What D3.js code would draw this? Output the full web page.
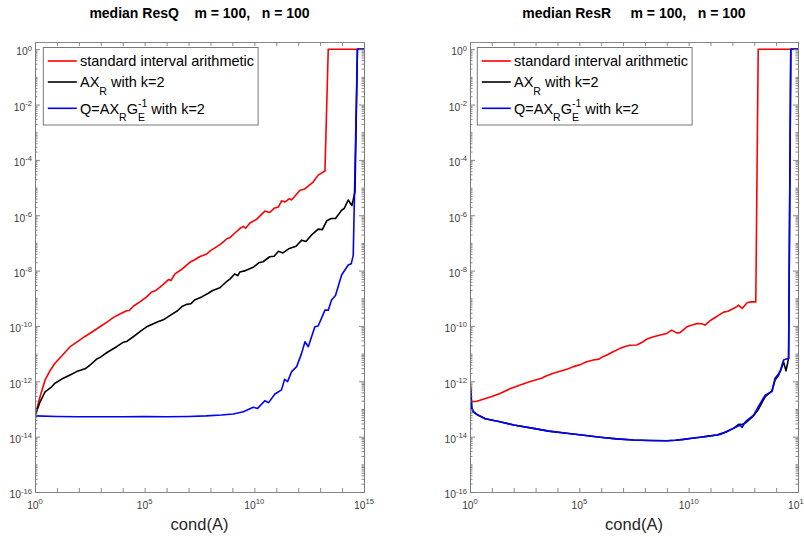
<!DOCTYPE html>
<html>
<head>
<meta charset="utf-8">
<script src="https://cdn.jsdelivr.net/npm/d3@7"></script>
<style>
  body { margin: 0; background: #fff; }
  text { font-family: Arial, "Liberation Sans", Helvetica, sans-serif; white-space: pre; }
</style>
</head>
<body>
<svg id="chart" width="804" height="537"></svg>
<script>
// values as [log10 cond(A), log10 residual]

// median ResQ
var resQStd = [[0,-13.25],[0.23,-12.56],[0.46,-11.95],[0.7,-11.6],[0.91,-11.35],[1.29,-11.02],[1.6,-10.75],
  [1.97,-10.55],[2.28,-10.38],[2.6,-10.22],[2.96,-10.03],[3.3,-9.85],[3.6,-9.68],[3.87,-9.57],[4.18,-9.45],
  [4.3,-9.44],[4.5,-9.28],[4.8,-9.12],[5.09,-8.95],[5.3,-8.78],[5.5,-8.72],[5.7,-8.6],[5.85,-8.5],[6.1,-8.32],
  [6.2,-8.36],[6.38,-8.12],[6.7,-7.95],[7.06,-7.7],[7.3,-7.6],[7.5,-7.5],[7.83,-7.4],[8.0,-7.28],[8.2,-7.18],
  [8.43,-7.06],[8.6,-6.95],[8.74,-6.85],[8.9,-6.8],[9.1,-6.65],[9.34,-6.48],[9.5,-6.4],[9.6,-6.47],[9.8,-6.28],
  [10.1,-6.15],[10.48,-5.85],[10.7,-5.9],[10.9,-5.75],[11.1,-5.7],[11.24,-5.48],[11.4,-5.52],[11.6,-5.4],
  [11.7,-5.45],[12.08,-5.1],[12.3,-5.05],[12.5,-4.92],[12.68,-4.8],[12.91,-4.55],[13.22,-4.4],[13.37,0],[15,0]];
var resQAXR = [[0,-13.25],[0.23,-12.74],[0.46,-12.38],[0.76,-12.2],[0.91,-12.07],[1.22,-11.92],[1.6,-11.77],
  [1.9,-11.65],[2.28,-11.55],[2.5,-11.42],[2.81,-11.2],[3.0,-11.12],[3.3,-10.95],[3.72,-10.75],[4.0,-10.6],
  [4.2,-10.55],[4.48,-10.39],[4.8,-10.2],[5.09,-10.03],[5.4,-9.92],[5.6,-9.85],[5.85,-9.78],[6.2,-9.6],
  [6.5,-9.45],[6.7,-9.3],[6.91,-9.22],[7.1,-9.2],[7.3,-9.05],[7.6,-8.95],[7.9,-8.82],[8.1,-8.72],[8.43,-8.62],
  [8.7,-8.42],[8.9,-8.3],[9.1,-8.12],[9.25,-8.18],[9.34,-8.05],[9.6,-8.0],[9.95,-7.88],[10.2,-7.72],[10.4,-7.68],
  [10.7,-7.5],[10.9,-7.48],[11.1,-7.3],[11.3,-7.36],[11.6,-7.2],[11.9,-7.12],[12.16,-6.9],[12.35,-6.95],
  [12.6,-6.72],[12.91,-6.5],[13.1,-6.52],[13.3,-6.2],[13.5,-6.12],[13.7,-6.12],[13.98,-5.82],[14.1,-5.75],
  [14.28,-5.45],[14.45,-5.65],[14.59,-5.15],[14.7,0],[15,0]];
var resQQ = [[0,-13.25],[1,-13.27],[2,-13.28],[3,-13.28],[4,-13.28],[5,-13.27],[6,-13.28],[7,-13.27],
  [7.8,-13.25],[8.5,-13.22],[9.04,-13.18],[9.5,-13.1],[9.95,-12.94],[10.15,-12.98],[10.48,-12.7],[10.65,-12.77],
  [10.94,-12.46],[11.24,-12.31],[11.38,-11.93],[11.52,-12.01],[11.7,-11.65],[11.93,-11.47],[12.15,-11.0],
  [12.31,-10.57],[12.46,-10.75],[12.76,-10.03],[12.91,-10.0],[13.22,-9.43],[13.37,-9.43],[13.52,-9.06],
  [13.7,-8.9],[13.98,-8.16],[14.28,-7.8],[14.42,-7.75],[14.51,-7.44],[14.7,0],[15,0]];

// median ResR
var resRStd = [[0,-12.0],[0.08,-12.74],[0.31,-12.72],[0.6,-12.65],[1.0,-12.55],[1.37,-12.44],[1.83,-12.27],
  [2.2,-12.16],[2.75,-12.01],[3.0,-11.95],[3.3,-11.88],[3.45,-11.82],[3.81,-11.71],[4.2,-11.62],[4.5,-11.55],
  [4.73,-11.47],[5.1,-11.38],[5.3,-11.3],[5.64,-11.23],[5.9,-11.2],[6.1,-11.1],[6.26,-11.05],[6.5,-10.95],
  [6.87,-10.81],[7.1,-10.74],[7.3,-10.7],[7.63,-10.69],[7.9,-10.58],[8.1,-10.47],[8.39,-10.39],[8.7,-10.33],
  [9.0,-10.27],[9.22,-10.15],[9.45,-10.25],[9.6,-10.24],[9.92,-10.03],[10.2,-9.96],[10.38,-9.91],[10.6,-9.92],
  [10.75,-9.97],[11.0,-9.8],[11.14,-9.73],[11.4,-9.6],[11.6,-9.5],[11.8,-9.47],[12.05,-9.37],[12.2,-9.3],
  [12.28,-9.25],[12.45,-9.37],[12.67,-9.16],[12.85,-9.13],[13.07,-9.13],[13.18,0],[15,0]];
var resRAXR = [[0,-12.0],[0.08,-12.96],[0.15,-13.1],[0.36,-13.22],[0.7,-13.35],[1.37,-13.46],[2.0,-13.58],
  [2.9,-13.7],[3.6,-13.8],[4.42,-13.88],[5.2,-13.95],[5.95,-14.02],[6.7,-14.08],[7.47,-14.12],[8.2,-14.14],
  [9.0,-14.15],[9.4,-14.13],[9.76,-14.1],[10.15,-14.06],[10.53,-14.02],[10.9,-13.98],[11.29,-13.94],
  [11.44,-13.9],[11.7,-13.84],[12.05,-13.7],[12.3,-13.55],[12.44,-13.56],[12.6,-13.5],[12.97,-13.25],
  [13.2,-13.0],[13.5,-12.55],[13.81,-12.35],[13.95,-11.95],[14.1,-11.8],[14.2,-11.62],[14.34,-11.3],
  [14.45,-11.62],[14.57,-11.17],[14.67,0],[15,0]];
var resRQ = [[0,-12.0],[0.08,-12.96],[0.15,-13.1],[0.36,-13.22],[0.7,-13.35],[1.37,-13.46],[2.0,-13.58],
  [2.9,-13.7],[3.6,-13.8],[4.42,-13.88],[5.2,-13.95],[5.95,-14.02],[6.7,-14.08],[7.47,-14.12],[8.2,-14.14],
  [9.0,-14.15],[9.4,-14.13],[9.76,-14.1],[10.15,-14.06],[10.53,-14.02],[10.9,-13.98],[11.29,-13.94],
  [11.44,-13.92],[11.7,-13.82],[12.05,-13.7],[12.36,-13.58],[12.44,-13.67],[12.6,-13.46],[12.97,-13.22],
  [13.2,-12.9],[13.5,-12.5],[13.81,-12.37],[13.95,-11.89],[14.1,-11.75],[14.2,-11.6],[14.34,-11.23],
  [14.57,-11.17],[14.67,0],[15,0]];

var xTickExp = [0, 5, 10, 15];
var yTickExp = [0, -2, -4, -6, -8, -10, -12, -14, -16];
var seriesColors = ["#ff0000", "#000000", "#0000ff"];
var legendItems = [
  [{t: "standard interval arithmetic"}],
  [{t: "AX"}, {t: "R", sub: true}, {t: " with k=2"}],
  [{t: "Q=AX"}, {t: "R", sub: true}, {t: "G"}, {sup: "-1", sub: "E"}, {t: " with k=2"}]
];

var svg = d3.select("#chart");
var plotTop = 42, plotBottom = 492;

function sciLabel(g, exp, x, y, anchor) {
  var t = g.append("text").attr("y", y).attr("fill", "#404040").style("font-size", "10.3px");
  t.append("tspan").text("10");
  t.append("tspan").attr("dy", -4.8).style("font-size", "7.6px").text(exp);
  var w = t.node().getComputedTextLength();
  t.attr("x", anchor === "end" ? x - w : x - w / 2);
}

function drawLegend(g, lx) {
  var ly = 47.5, rows = [61, 82, 108.3];
  var box = g.append("rect").attr("x", lx).attr("y", ly).attr("height", 77.5)
    .attr("fill", "#fff").attr("stroke", "#777").attr("stroke-width", 1);
  var maxX = 0;
  legendItems.forEach(function(parts, i) {
    var y = rows[i];
    g.append("line").attr("x1", lx + 4.5).attr("x2", lx + 33.5).attr("y1", y).attr("y2", y)
      .attr("stroke", seriesColors[i]).attr("stroke-width", 1.6);
    var cx = lx + 36.7, base = y + 5.2;
    parts.forEach(function(p) {
      if (p.t !== undefined) {
        var t = g.append("text").attr("x", cx).attr("y", p.sub ? base + 7.8 : base)
          .style("font-size", p.sub ? "10.5px" : "14.5px").text(p.t);
        cx += t.node().getComputedTextLength();
      } else {
        var a = g.append("text").attr("x", cx).attr("y", base - 6.8).style("font-size", "10.5px").text(p.sup);
        var b = g.append("text").attr("x", cx).attr("y", base + 7.4).style("font-size", "10.5px").text(p.sub);
        cx += Math.max(a.node().getComputedTextLength(), b.node().getComputedTextLength());
      }
    });
    maxX = Math.max(maxX, cx);
  });
  box.attr("width", maxX + 4 - lx);
}

function drawPanel(left, right, title, series, legendX) {
  var x = d3.scaleLog().domain([1, 1e15]).range([left, right]);
  var y = d3.scaleLog().domain([1e-16, Math.pow(10, 0.26)]).range([plotBottom, plotTop]);
  var g = svg.append("g");

  var clipId = "clip" + left;
  g.append("clipPath").attr("id", clipId).append("rect")
    .attr("x", left).attr("y", plotTop).attr("width", right - left).attr("height", plotBottom - plotTop);

  var line = d3.line()
    .x(function(d) { return x(Math.pow(10, d[0])); })
    .y(function(d) { return y(Math.pow(10, d[1])); });

  series.forEach(function(s, i) {
    g.append("path").datum(s).attr("d", line).attr("fill", "none")
      .attr("stroke", seriesColors[i]).attr("stroke-width", 1.6)
      .attr("stroke-linejoin", "round").attr("clip-path", "url(#" + clipId + ")");
  });

  // ticks, all pointing inward
  var decadesX = d3.range(0, 16).map(function(e) { return Math.pow(10, e); });
  var majorY = d3.range(-16, 1, 2).map(function(e) { return Math.pow(10, e); });
  var minorY = [];
  for (var e = -16; e < 0; e++) {
    for (var k = 1; k < 10; k++) {
      if (k === 1 && e % 2 === 0) continue;
      minorY.push(k * Math.pow(10, e));
    }
  }
  var axisStyle = function(sel) {
    sel.selectAll("path,line").attr("stroke", "#7a7a7a").attr("stroke-width", 0.9);
    sel.selectAll("text").remove();
  };
  g.append("g").attr("transform", "translate(0," + plotBottom + ")")
    .call(d3.axisBottom(x).tickValues(decadesX).tickSizeInner(-4).tickSizeOuter(0).tickFormat(""))
    .call(axisStyle);
  g.append("g").attr("transform", "translate(0," + plotTop + ")")
    .call(d3.axisTop(x).tickValues(decadesX).tickSizeInner(-4).tickSizeOuter(0).tickFormat(""))
    .call(axisStyle);
  g.append("g").attr("transform", "translate(" + left + ",0)")
    .call(d3.axisLeft(y).tickValues(majorY).tickSizeInner(-5).tickSizeOuter(0).tickFormat(""))
    .call(axisStyle);
  g.append("g").attr("transform", "translate(" + left + ",0)")
    .call(d3.axisLeft(y).tickValues(minorY).tickSizeInner(-2.5).tickSizeOuter(0).tickFormat(""))
    .call(axisStyle);
  g.append("g").attr("transform", "translate(" + right + ",0)")
    .call(d3.axisRight(y).tickValues(majorY).tickSizeInner(-5).tickSizeOuter(0).tickFormat(""))
    .call(axisStyle);
  g.append("g").attr("transform", "translate(" + right + ",0)")
    .call(d3.axisRight(y).tickValues(minorY).tickSizeInner(-2.5).tickSizeOuter(0).tickFormat(""))
    .call(axisStyle);

  xTickExp.forEach(function(e) { sciLabel(g, e, x(Math.pow(10, e)), plotBottom + 17, "middle"); });
  yTickExp.forEach(function(e) { sciLabel(g, e, left - 3, y(Math.pow(10, e)) + 6.3, "end"); });

  g.append("text").attr("x", (left + right) / 2).attr("y", 530).attr("text-anchor", "middle")
    .style("font-size", "16.5px").attr("fill", "#262626").text("cond(A)");
  g.append("text").attr("x", (left + right) / 2).attr("y", 17.5).attr("text-anchor", "middle")
    .style("font-size", "14px").style("font-weight", "bold").text(title);

  drawLegend(g, legendX);
}

drawPanel(35, 364, "median ResQ    m = 100,   n = 100", [resQStd, resQAXR, resQQ], 43.3);
drawPanel(470, 798, "median ResR     m = 100,   n = 100", [resRStd, resRAXR, resRQ], 477.3);
</script>
</body>
</html>
